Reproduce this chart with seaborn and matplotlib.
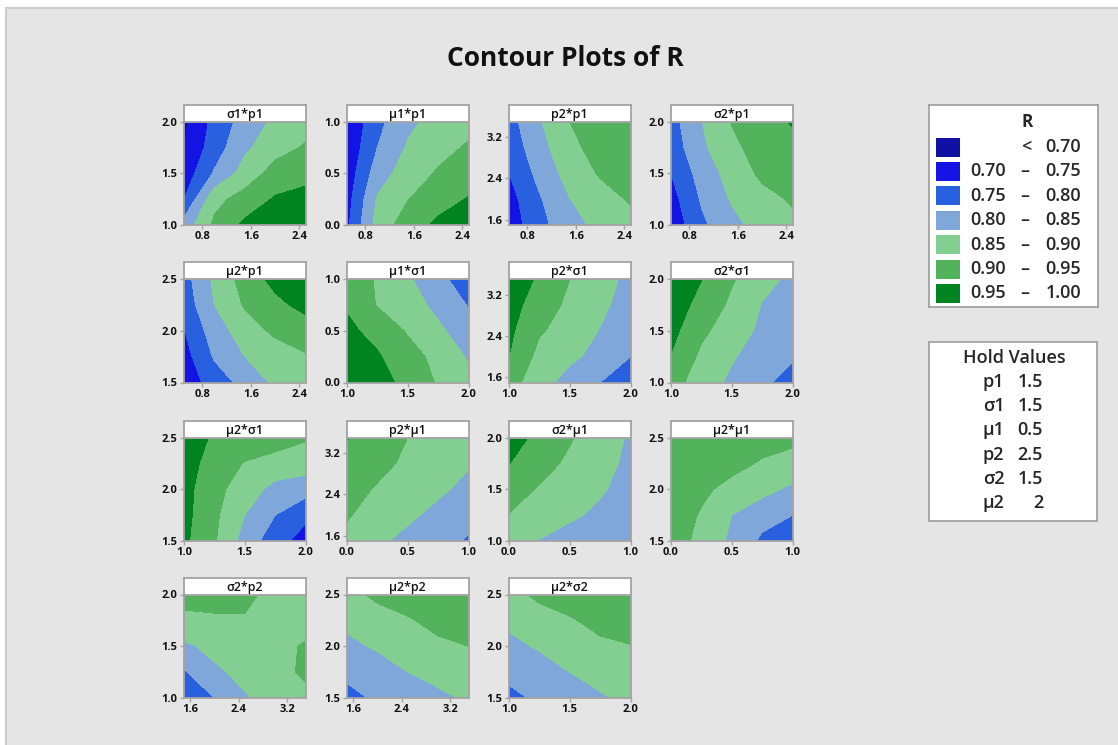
import numpy as np
import matplotlib
matplotlib.use("Agg")
import matplotlib.pyplot as plt
from matplotlib.patches import Rectangle
import seaborn as sns

# contour bands and colours
levels = [0.0, 0.70, 0.75, 0.80, 0.85, 0.90, 0.95, 1.05]
band_colors = ['#1010a2', '#1313e3', '#2860e0', '#7fa7d9', '#83cf92', '#53b35d', '#008321']
legend_lo = ['', '0.70', '0.75', '0.80', '0.85', '0.90', '0.95']
legend_hi = ['0.70', '0.75', '0.80', '0.85', '0.90', '0.95', '1.00']

# grid points of each factor
grid = {
    'p1': [0.5, 1.0, 1.5, 2.0, 2.5],
    'σ1': [1.0, 1.25, 1.5, 1.75, 2.0],
    'μ1': [0.0, 0.25, 0.5, 0.75, 1.0],
    'p2': [1.5, 2.0, 2.5, 3.0, 3.5],
    'σ2': [1.0, 1.25, 1.5, 1.75, 2.0],
    'μ2': [1.5, 1.75, 2.0, 2.25, 2.5],
}
ticks = {
    'p1': [0.8, 1.6, 2.4],
    'σ1': [1.0, 1.5, 2.0],
    'μ1': [0.0, 0.5, 1.0],
    'p2': [1.6, 2.4, 3.2],
    'σ2': [1.0, 1.5, 2.0],
    'μ2': [1.5, 2.0, 2.5],
}

# R values (rows: bottom -> top, cols: left -> right)
R_s1_p1 = [[0.82, 0.91, 0.96, 0.97, 0.975],
           [0.75, 0.885, 0.92, 0.955, 0.965],
           [0.72, 0.805, 0.87, 0.92, 0.935],
           [0.70, 0.775, 0.84, 0.88, 0.905],
           [0.69, 0.765, 0.82, 0.86, 0.88]]
R_m1_p1 = [[0.74, 0.87, 0.925, 0.96, 0.975],
           [0.73, 0.855, 0.898, 0.93, 0.953],
           [0.72, 0.825, 0.875, 0.905, 0.925],
           [0.71, 0.80, 0.855, 0.885, 0.905],
           [0.705, 0.785, 0.84, 0.865, 0.885]]
R_p2_p1 = [[0.72, 0.785, 0.83, 0.865, 0.885],
           [0.73, 0.795, 0.849, 0.88, 0.905],
           [0.75, 0.815, 0.87, 0.905, 0.92],
           [0.77, 0.83, 0.89, 0.915, 0.928],
           [0.78, 0.845, 0.90, 0.92, 0.93]]
R_s2_p1 = [[0.715, 0.79, 0.835, 0.87, 0.89],
           [0.73, 0.805, 0.855, 0.885, 0.905],
           [0.75, 0.82, 0.87, 0.91, 0.925],
           [0.77, 0.84, 0.89, 0.918, 0.935],
           [0.78, 0.848, 0.902, 0.925, 0.955]]
R_m2_p1 = [[0.715, 0.775, 0.815, 0.86, 0.875],
           [0.73, 0.805, 0.85, 0.875, 0.895],
           [0.748, 0.825, 0.875, 0.91, 0.925],
           [0.77, 0.85, 0.905, 0.937, 0.965],
           [0.78, 0.86, 0.92, 0.965, 0.98]]
R_m1_s1 = [[0.99, 0.97, 0.935, 0.895, 0.86],
           [0.975, 0.955, 0.92, 0.885, 0.845],
           [0.96, 0.935, 0.895, 0.86, 0.82],
           [0.945, 0.897, 0.875, 0.835, 0.797],
           [0.93, 0.895, 0.858, 0.81, 0.78]]
R_p2_s1 = [[0.92, 0.87, 0.83, 0.80, 0.77],
           [0.95, 0.885, 0.86, 0.835, 0.80],
           [0.96, 0.905, 0.88, 0.848, 0.815],
           [0.97, 0.925, 0.89, 0.86, 0.83],
           [0.98, 0.943, 0.90, 0.865, 0.84]]
R_s2_s1 = [[0.92, 0.875, 0.84, 0.81, 0.78],
           [0.948, 0.89, 0.855, 0.825, 0.805],
           [0.965, 0.91, 0.875, 0.84, 0.82],
           [0.975, 0.935, 0.89, 0.848, 0.83],
           [0.985, 0.951, 0.905, 0.865, 0.84]]
R_m2_s1 = [[0.96, 0.905, 0.83, 0.77, 0.73],
           [0.965, 0.91, 0.85, 0.80, 0.76],
           [0.967, 0.915, 0.875, 0.835, 0.82],
           [0.97, 0.93, 0.897, 0.88, 0.875],
           [0.97, 0.945, 0.935, 0.925, 0.905]]
R_p2_m1 = [[0.885, 0.86, 0.835, 0.815, 0.795],
           [0.905, 0.875, 0.86, 0.835, 0.815],
           [0.92, 0.895, 0.875, 0.86, 0.835],
           [0.935, 0.915, 0.89, 0.87, 0.855],
           [0.952, 0.925, 0.90, 0.88, 0.865]]
R_s2_m1 = [[0.88, 0.848, 0.83, 0.82, 0.81],
           [0.898, 0.88, 0.858, 0.84, 0.82],
           [0.925, 0.895, 0.875, 0.856, 0.83],
           [0.951, 0.92, 0.89, 0.865, 0.84],
           [0.975, 0.935, 0.905, 0.87, 0.845]]
R_m2_m1 = [[0.925, 0.885, 0.84, 0.79, 0.765],
           [0.93, 0.895, 0.85, 0.82, 0.80],
           [0.935, 0.91, 0.885, 0.865, 0.84],
           [0.94, 0.925, 0.915, 0.895, 0.885],
           [0.94, 0.935, 0.93, 0.92, 0.91]]
R_s2_p2 = [[0.77, 0.80, 0.845, 0.87, 0.885],
           [0.795, 0.84, 0.865, 0.88, 0.91],
           [0.84, 0.865, 0.88, 0.885, 0.905],
           [0.89, 0.893, 0.895, 0.885, 0.88],
           [0.915, 0.918, 0.915, 0.88, 0.875]]
R_m2_p2 = [[0.78, 0.81, 0.825, 0.84, 0.855],
           [0.815, 0.83, 0.85, 0.865, 0.875],
           [0.84, 0.855, 0.875, 0.89, 0.90],
           [0.86, 0.88, 0.895, 0.915, 0.92],
           [0.885, 0.91, 0.925, 0.935, 0.94]]
R_m2_s2 = [[0.785, 0.81, 0.825, 0.845, 0.86],
           [0.815, 0.83, 0.85, 0.865, 0.875],
           [0.838, 0.855, 0.875, 0.89, 0.898],
           [0.86, 0.88, 0.895, 0.915, 0.925],
           [0.885, 0.91, 0.925, 0.94, 0.952]]

# (y factor, x factor, values) in reading order
panels = [
    ('σ1', 'p1', R_s1_p1), ('μ1', 'p1', R_m1_p1), ('p2', 'p1', R_p2_p1), ('σ2', 'p1', R_s2_p1),
    ('μ2', 'p1', R_m2_p1), ('μ1', 'σ1', R_m1_s1), ('p2', 'σ1', R_p2_s1), ('σ2', 'σ1', R_s2_s1),
    ('μ2', 'σ1', R_m2_s1), ('p2', 'μ1', R_p2_m1), ('σ2', 'μ1', R_s2_m1), ('μ2', 'μ1', R_m2_m1),
    ('σ2', 'p2', R_s2_p2), ('μ2', 'p2', R_m2_p2), ('μ2', 'σ2', R_m2_s2),
]

hold_names = ['p1', 'σ1', 'μ1', 'p2', 'σ2', 'μ2']
hold_vals = ['1.5', '1.5', '0.5', '2.5', '1.5', '2']

sns.set_theme(style="white")
plt.rcParams['font.family'] = ['Open Sans', 'DejaVu Sans']

W, H = 1118, 745
fig = plt.figure(figsize=(W / 100, H / 100), dpi=100)
fig.patch.set_facecolor('white')
fig.patches.append(Rectangle((6 / W, -0.01), 1.0, (H - 8) / H + 0.01, transform=fig.transFigure,
                             facecolor='#e5e5e5', edgecolor='#cdcdcd', lw=1.5, zorder=-5))


def px_axes(left, top, width, height):
    return fig.add_axes([left / W, 1 - (top + height) / H, width / W, height / H])


frame_col = '#a3a3a3'
col_left = [184, 347, 509, 671]
row_top = [121.5, 279, 437.5, 594.5]
pw, ph, th = 121.5, 103.5, 16.5

for i, (yv, xv, R) in enumerate(panels):
    r, c = divmod(i, 4)
    ax = px_axes(col_left[c], row_top[r], pw, ph)
    ax.contourf(grid[xv], grid[yv], np.array(R), levels=levels, colors=band_colors)
    ax.set_xlim(grid[xv][0], grid[xv][-1])
    ax.set_ylim(grid[yv][0], grid[yv][-1])
    ax.set_xticks(ticks[xv])
    ax.set_yticks(ticks[yv])
    ax.set_xticklabels([f'{t:.1f}' for t in ticks[xv]], fontweight='bold')
    ax.set_yticklabels([f'{t:.1f}' for t in ticks[yv]], fontweight='bold')
    ax.tick_params(direction='out', length=3, width=1, color=frame_col, labelsize=8,
                   labelcolor='#111111', pad=1.5, left=True, bottom=True)
    for s in ax.spines.values():
        s.set_color(frame_col)
        s.set_linewidth(1.3)

    tax = px_axes(col_left[c], row_top[r] - th, pw, th)
    tax.set_facecolor('white')
    tax.set_xticks([])
    tax.set_yticks([])
    for s in tax.spines.values():
        s.set_color(frame_col)
        s.set_linewidth(1.3)
    tax.text(0.5, 0.45, f'{yv}*{xv}', ha='center', va='center', fontsize=9,
             fontweight='semibold', color='#111111', transform=tax.transAxes)

fig.text(565 / W, 1 - 58 / H, 'Contour Plots of R', ha='center', va='center',
         fontsize=19, fontweight='bold', color='#111111')

# legend of the contour bands
lax = px_axes(929, 105, 169, 202)
lax.set_xlim(0, 169)
lax.set_ylim(202, 0)
lax.set_facecolor('white')
lax.set_xticks([])
lax.set_yticks([])
for s in lax.spines.values():
    s.set_color(frame_col)
    s.set_linewidth(1.3)
lax.text(97.7, 16.7, 'R', ha='center', va='center', fontsize=12.5, fontweight='bold')
for k in range(len(band_colors)):
    yc = 42 + k * 24.4
    lax.add_patch(Rectangle((6.7, yc - 9.5), 24.3, 19, facecolor=band_colors[k], edgecolor='none'))
    if legend_lo[k]:
        lax.text(41.7, yc, legend_lo[k], ha='left', va='center', fontsize=13, fontweight='semibold')
        lax.text(96, yc, '–', ha='center', va='center', fontsize=13, fontweight='semibold')
    else:
        lax.text(97, yc, '<', ha='center', va='center', fontsize=13, fontweight='semibold')
    lax.text(152, yc, legend_hi[k], ha='right', va='center', fontsize=13, fontweight='semibold')

# hold values box
hax = px_axes(929, 341.7, 168, 179.3)
hax.set_xlim(0, 168)
hax.set_ylim(179.3, 0)
hax.set_facecolor('white')
hax.set_xticks([])
hax.set_yticks([])
for s in hax.spines.values():
    s.set_color(frame_col)
    s.set_linewidth(1.3)
hax.text(85, 16.3, 'Hold Values', ha='center', va='center', fontsize=13, fontweight='semibold')
for k, (nm, val) in enumerate(zip(hold_names, hold_vals)):
    yc = 40.3 + k * 24.2
    hax.text(54, yc, nm, ha='left', va='center', fontsize=13, fontweight='semibold')
    hax.text(114, yc, val, ha='right', va='center', fontsize=13, fontweight='semibold')

fig.savefig('out.png', dpi=100)
